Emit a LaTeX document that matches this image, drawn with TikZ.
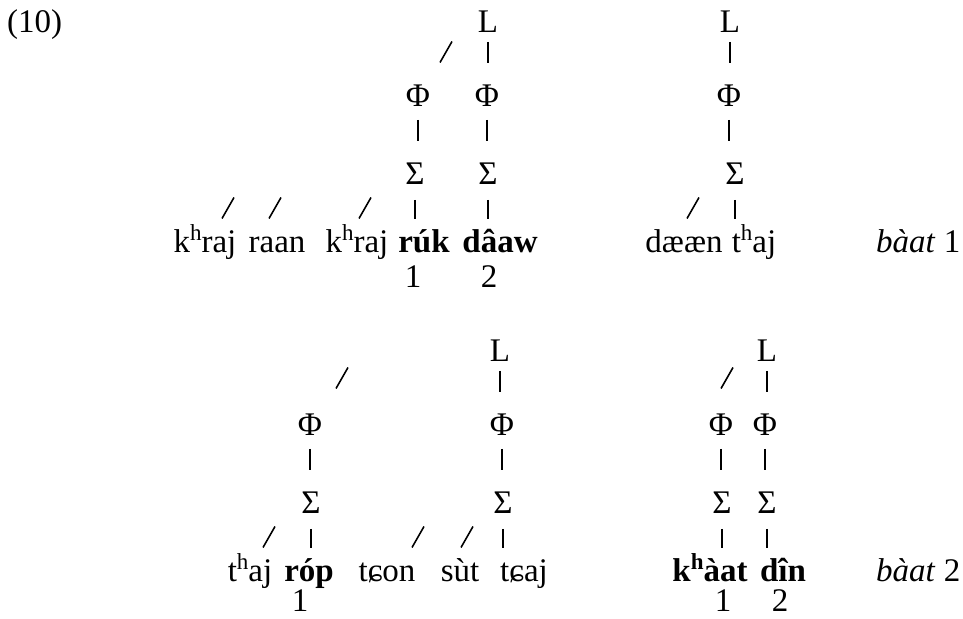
\documentclass[tikz,border=0pt]{standalone}
\usepackage{fontspec}
\setmainfont{Liberation Serif}
\usetikzlibrary{calc}
\newcommand{\aspir}{\raisebox{0.38em}{\fontsize{23}{26}\selectfont h}}

\begin{document}
\begin{tikzpicture}[
    x=1pt, y=1pt,
    tier/.style={inner sep=0pt, anchor=base, font=\fontsize{33}{40}\selectfont},
    headsyl/.style={tier, font=\fontsize{33}{40}\selectfont\bfseries},
    gloss/.style={tier, anchor=base west},
    stem/.style={line width=1.6pt},
    stemL/.style={stem, shorten <=9pt, shorten >=44pt},
    stemP/.style={stem, shorten <=13pt, shorten >=44pt},
    stemS/.style={stem, shorten <=15pt, shorten >=34pt},
    slash/.style={line width=1.6pt},
]
\useasboundingbox (0,0) rectangle (963,618);

\node[tier, anchor=base west] (exno) at (7,585) {(10)};

% Upper line: khraj raan khraj ruk daaw
\node[tier] (LA) at (488,585) {L};
\node[tier] (PA1) at (418,511) {Φ};
\node[tier] (PA2) at (487,511) {Φ};
\node[tier] (SA1) at (415,433) {Σ};
\node[tier] (SA2) at (488,433) {Σ};
\node[tier] (khraja) at (205,365) {k\aspir raj};
\node[tier] (raan) at (277,365) {raan};
\node[tier] (khrajb) at (357,365) {k\aspir raj};
\node[headsyl] (ruk) at (424,365) {rúk};
\node[headsyl] (daaw) at (500,365) {dâaw};
\node[tier] (numA1) at (413,330) {1};
\node[tier] (numA2) at (489,330) {2};

\draw[stemL] (LA.base) -- (LA.base |- PA2.base);
\draw[stemP] (PA1.base) -- (PA1.base |- SA1.base);
\draw[stemP] (PA2.base) -- (PA2.base |- SA2.base);
\draw[stemS] (SA1.base) -- (SA1.base |- ruk.base);
\draw[stemS] (SA2.base) -- (SA2.base |- daaw.base);

% Upper line: daeaen thaj
\node[tier] (LB) at (730,585) {L};
\node[tier] (PB) at (729,511) {Φ};
\node[tier] (SB) at (735,433) {Σ};
\node[tier] (daeaen) at (684,365) {dææn};
\node[tier] (thaja) at (754,365) {t\aspir aj};
\node[gloss] (baata) at (876,365) {\textit{bàat} 1};

\draw[stemL] (LB.base) -- (LB.base |- PB.base);
\draw[stemP] (PB.base) -- (PB.base |- SB.base);
\draw[stemS] (SB.base) -- (SB.base |- thaja.base);

% Lower line: thaj rop tcon sut tcaj
\node[tier] (LC) at (500,256) {L};
\node[tier] (PC1) at (310,182) {Φ};
\node[tier] (PC2) at (502,182) {Φ};
\node[tier] (SC1) at (311,104) {Σ};
\node[tier] (SC2) at (503,104) {Σ};
\node[tier] (thajb) at (250,36) {t\aspir aj};
\node[headsyl] (rop) at (309,36) {róp};
\node[tier] (tcon) at (387,36) {tɕon};
\node[tier] (sut) at (460,36) {sùt};
\node[tier] (tcaj) at (524,36) {tɕaj};
\node[tier] (numC1) at (300,6) {1};

\draw[stemL] (LC.base) -- (LC.base |- PC2.base);
\draw[stemP] (PC1.base) -- (PC1.base |- SC1.base);
\draw[stemP] (PC2.base) -- (PC2.base |- SC2.base);
\draw[stemS] (SC1.base) -- (SC1.base |- rop.base);
\draw[stemS] (SC2.base) -- (SC2.base |- tcaj.base);

% Lower line: khaat din
\node[tier] (LD) at (767,256) {L};
\node[tier] (PD1) at (721,182) {Φ};
\node[tier] (PD2) at (765,182) {Φ};
\node[tier] (SD1) at (722,104) {Σ};
\node[tier] (SD2) at (767,104) {Σ};
\node[headsyl] (khaat) at (710,36) {k\aspir àat};
\node[headsyl] (din) at (783,36) {dîn};
\node[tier] (numD1) at (723,6) {1};
\node[tier] (numD2) at (780,6) {2};
\node[gloss] (baatb) at (876,36) {\textit{bàat} 2};

\draw[stemL] (LD.base) -- (LD.base |- PD2.base);
\draw[stemP] (PD1.base) -- (PD1.base |- SD1.base);
\draw[stemP] (PD2.base) -- (PD2.base |- SD2.base);
\draw[stemS] (SD1.base) -- (SD1.base |- khaat.base);
\draw[stemS] (SD2.base) -- (SD2.base |- din.base);

% Unlinked slashes
\coordinate (slA) at (446,566);
\coordinate (slA1) at (228,410);
\coordinate (slA2) at (275,410);
\coordinate (slA3) at (365,410);
\coordinate (slB) at (693,410);
\coordinate (slC) at (342,240);
\coordinate (slC1) at (269,81);
\coordinate (slC2) at (418,81);
\coordinate (slC3) at (467,81);
\coordinate (slD) at (727,240);
\foreach \s in {slA,slA1,slA2,slA3,slB,slC,slC1,slC2,slC3,slD}
    \draw[slash] (\s) +(-6,-10.5) -- +(6,10.5);

\end{tikzpicture}
\end{document}
